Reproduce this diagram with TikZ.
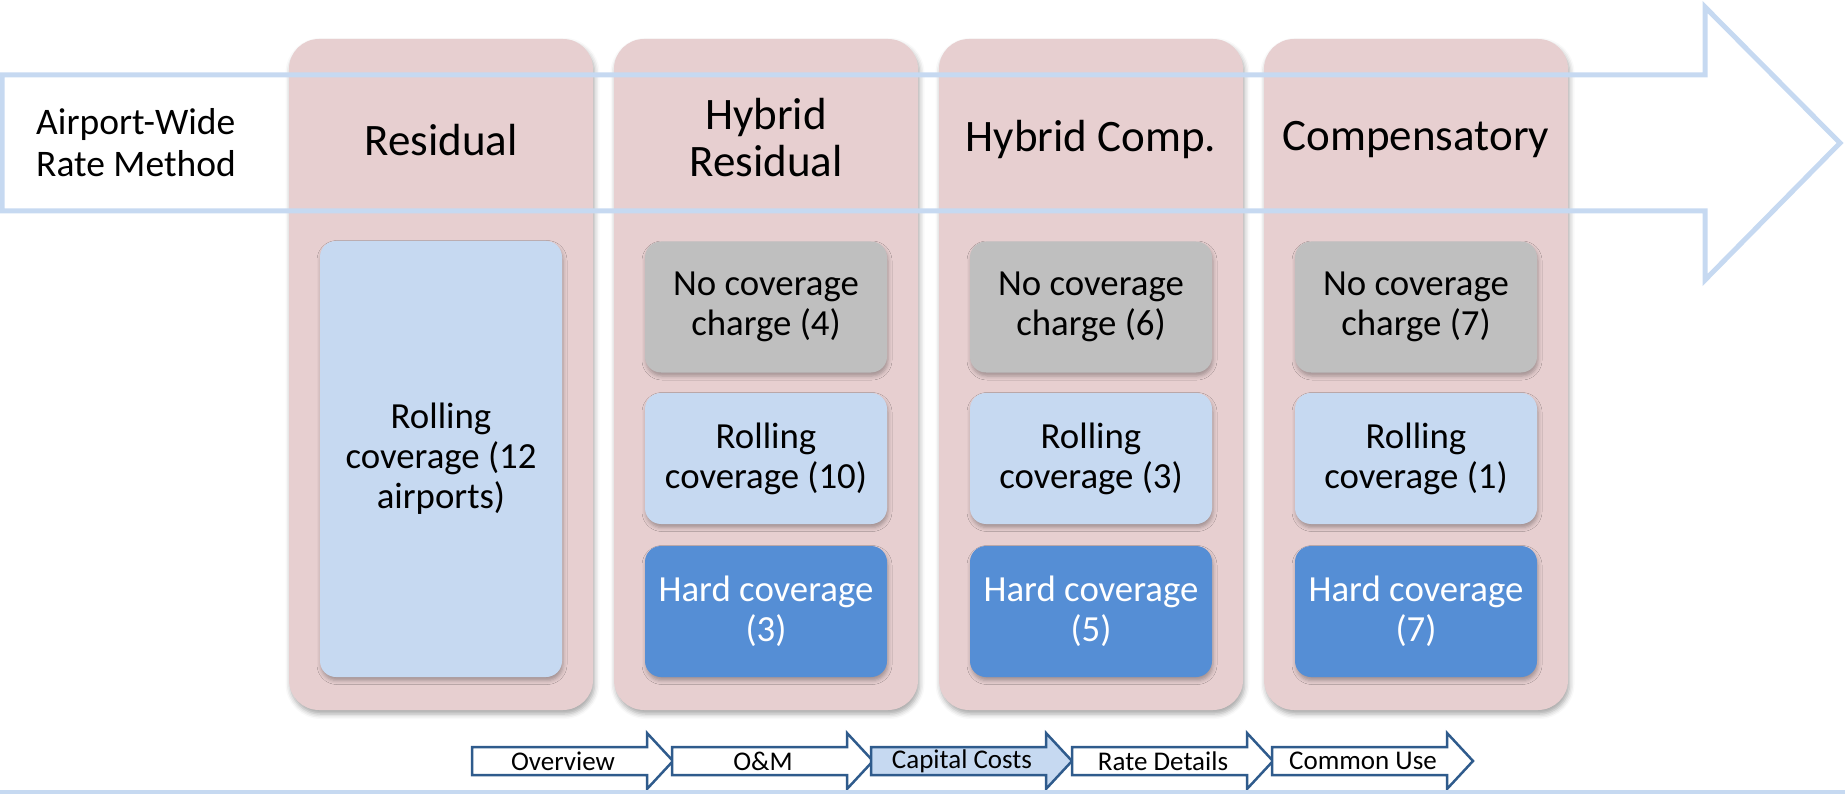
\documentclass[tikz,border=0pt]{standalone}
\usepackage{fontspec}
\setmainfont{Carlito}
\usetikzlibrary{shadows.blur}
\definecolor{pinkc}{HTML}{E7CFD0}
\definecolor{lblue}{HTML}{C6D9F1}
\definecolor{grayc}{HTML}{BFBFBF}
\definecolor{hblue}{HTML}{558ED5}
\definecolor{navb}{HTML}{2F5B8C}
\definecolor{arrowc}{HTML}{C6D9F1}
\begin{document}
\begin{tikzpicture}[x=1pt,y=-1pt,
  colbox/.style={rounded corners=30pt, fill=pinkc, minimum width=304pt, minimum height=671pt, inner sep=0pt,
    blur shadow={shadow xshift=1.5pt, shadow yshift=-4pt, shadow blur radius=5pt, shadow opacity=35}},
  innerbox/.style={rounded corners=16pt, minimum width=242pt, minimum height=131pt, inner sep=0pt, align=center,
    font=\fontsize{36.8}{40}\selectfont,
    blur shadow={shadow xshift=1pt, shadow yshift=-3.5pt, shadow blur radius=4pt, shadow opacity=30}},
  nocov/.style={innerbox, fill=grayc, text=black},
  rollcov/.style={innerbox, fill=lblue, text=black},
  hardcov/.style={innerbox, fill=hblue, text=white},
  title/.style={font=\fontsize{45}{47}\selectfont, align=center, inner sep=0pt},
  bigarrow/.style={draw=arrowc, line width=5pt, line join=miter},
  navarrow/.style={draw=navb, line width=2.5pt, line join=miter},
  navtext/.style={font=\fontsize{27}{29}\selectfont, inner sep=0pt}
]
\useasboundingbox (0,0) rectangle (1845,794);

% columns
\node[colbox] (c1) at (441,374.5) {};
\node[colbox] (c2) at (766,374.5) {};
\node[colbox] (c3) at (1091,374.5) {};
\node[colbox] (c4) at (1416,374.5) {};

% big arrow
\draw[bigarrow] (2,75) -- (1705,75) -- (1705,7) -- (1840,143) -- (1705,280) -- (1705,211) -- (2,211) -- cycle;

% left label
\node[anchor=west, align=left, inner sep=0pt, font=\fontsize{37.5}{42}\selectfont] (lab) at (36,143) {Airport-Wide\\Rate Method};

% titles
\node[title] (t1) at (441,140) {Residual};
\node[title] (t2) at (766,138) {Hybrid\\Residual};
\node[title] (t3) at (1091,140) {Hybrid Comp.};
\node[title] (t4) at (1416,140) {Compensatory};

% inner boxes
\node[rollcov, minimum height=436pt] (r1) at (441,459) {Rolling\\coverage (12\\airports)};

\node[nocov] (n2) at (766,307) {No coverage\\charge (4)};
\node[rollcov] (r2) at (766,458.5) {Rolling\\coverage (10)};
\node[hardcov] (h2) at (766,611.5) {Hard coverage\\(3)};

\node[nocov] (n3) at (1091,307) {No coverage\\charge (6)};
\node[rollcov] (r3) at (1091,458.5) {Rolling\\coverage (3)};
\node[hardcov] (h3) at (1091,611.5) {Hard coverage\\(5)};

\node[nocov] (n4) at (1416,307) {No coverage\\charge (7)};
\node[rollcov] (r4) at (1416,458.5) {Rolling\\coverage (1)};
\node[hardcov] (h4) at (1416,611.5) {Hard coverage\\(7)};

% bottom navigation
\foreach \x/\lbl/\fc/\nm in {472/Overview/white/nv1, 672/O\&M/white/nv2, 871/Capital Costs/lblue/nv3, 1072/Rate Details/white/nv4, 1272/Common Use/white/nv5}{
  \draw[navarrow, fill=\fc] (\x,747) -- (\x+175,747) -- (\x+175,733) -- (\x+201,761) -- (\x+175,789) -- (\x+175,775) -- (\x,775) -- cycle;
  \node[navtext] (\nm) at (\x+91,761) {\lbl};
}

\draw[draw=arrowc, line width=4pt] (0,792) -- (1845,792);
\end{tikzpicture}
\end{document}
